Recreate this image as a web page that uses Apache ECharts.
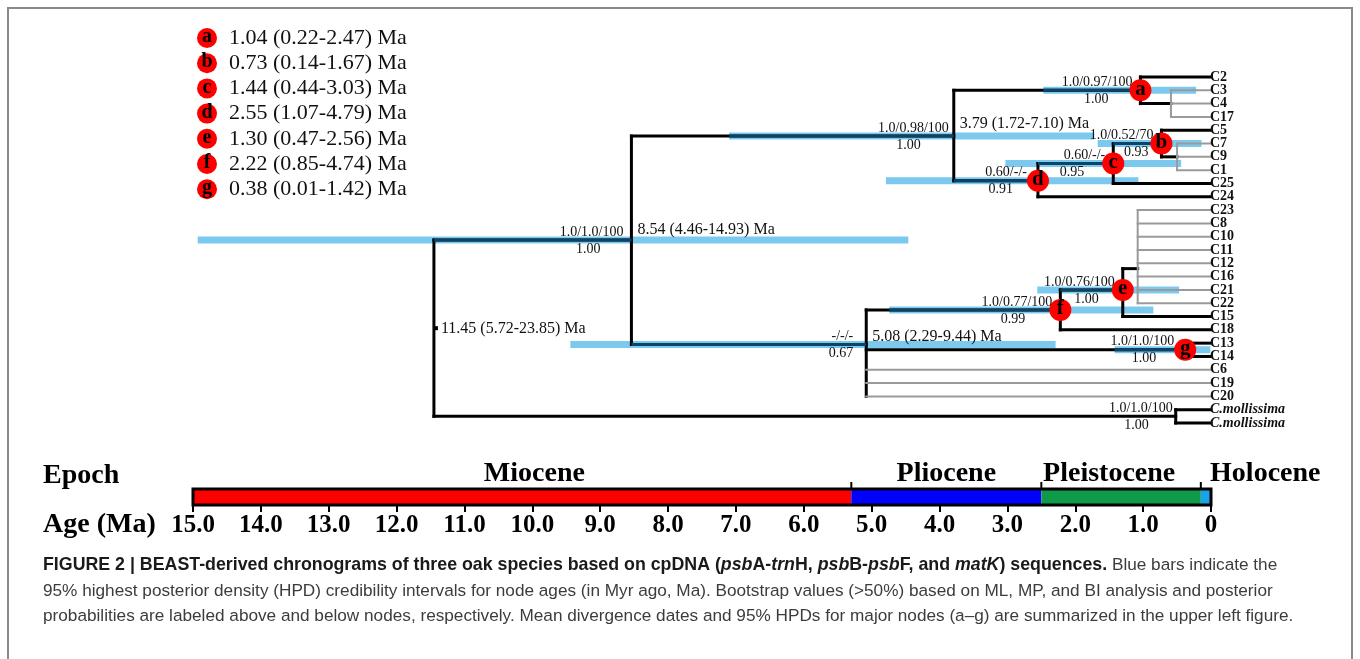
<!DOCTYPE html>
<html><head><meta charset="utf-8">
<script src="https://cdn.jsdelivr.net/npm/echarts@6/dist/echarts.min.js"></script>
<style>html,body{margin:0;padding:0;background:#fff}#c{width:1360px;height:659px}</style>
</head><body><div id="c"></div>
<script>
// ================= DATA =================
const tipNames = ['C2','C3','C4','C17','C5','C7','C9','C1','C25','C24','C23','C8','C10','C11','C12','C16','C21','C22','C15','C18','C13','C14','C6','C19','C20','C.mollissima','C.mollissima'];
const tipsInPolytomy = ['C3','C4','C17','C7','C9','C1','C23','C8','C10','C11','C12','C16','C21','C22','C6','C19','C20'];

const nodeIds      = ['R','N0','N1','a','P1','d','c','b','P2','N2','f','e','P3','g','M'];
const nodeAges     = [11.45,8.54,3.79,1.04,0.59,2.55,1.44,0.73,0.50,5.08,2.22,1.30,1.08,0.38,0.52];
const nodeRows     = [null,12.25,4.44,1,2,7.8,6.5,5,6,20.1,17.5,16,14.4,20.5,25.5];
const nodeChildren = [['N0','M'],['N1','N2'],['a','d'],[0,'P1'],[1,2,3],['c',9],['b',8],[4,'P2'],[5,6,7],['f','g',22,23,24],['e',19],['P3',18],[10,11,12,13,14,15,16,17],[20,21],[25,26]];
const nodeHpdLow   = [5.72,4.46,1.72,0.22,null,1.07,0.44,0.14,null,2.29,0.85,0.47,null,0.01,null];
const nodeHpdHigh  = [23.85,14.93,7.10,2.47,null,4.79,3.03,1.67,null,9.44,4.74,2.56,null,1.42,null];
const supportAbove = ['','1.0/1.0/100','1.0/0.98/100','1.0/0.97/100','','0.60/-/-','0.60/-/-','1.0/0.52/70','','-/-/-','1.0/0.77/100','1.0/0.76/100','','1.0/1.0/100','1.0/1.0/100'];
const supportBelow = ['','1.00','1.00','1.00','','0.91','0.95','0.93','','0.67','0.99','1.00','','1.00','1.00'];
const nodeLetters  = ['','','','a','','d','c','b','','','f','e','','g',''];
const collapsedNodes = ['P1','P2','P3'];
const datedNodes = ['R','N0','N1','N2'];

const epochNames = ['Miocene','Pliocene','Pleistocene','Holocene'];
const epochStart = [15,5.3,2.5,0.15];
const epochEnd   = [5.3,2.5,0.15,0];

const captionLine2 = '95% highest posterior density (HPD) credibility intervals for node ages (in Myr ago, Ma). Bootstrap values (>50%) based on ML, MP, and BI analysis and posterior';
const captionLine3 = 'probabilities are labeled above and below nodes, respectively. Mean divergence dates and 95% HPDs for major nodes (a\u2013g) are summarized in the upper left figure.';

// ================= LAYOUT / STYLE =================
const GL = 193, GW = 1018;
const serif = '"Liberation Serif","Times New Roman",serif';
const sans = '"Liberation Sans",Arial,sans-serif';
const COL = {black:'#000', gray:'#9a9a9a', hpd:'#7cc9ef', navy:'#0c4468', red:'#ff0000'};
const epochColors = ['#ff0000','#0000ff','#0f9a4a','#1ba3e8'];
const epochLabelAge = [9.97, 3.9, 1.5, -0.8];
const belowDx = {a:-32,N0:-31,N1:-33,b:-13,c:-29,d:-25,e:-24,f:-35,N2:-13,g:-29,M:-27};
const aboveDx = {N1:-5,M:-3,d:-11,g:-11,N2:-13};
const ageDy = {N0:-11,N1:-13,N2:-9};

// ================= DERIVED =================
const ix = id => nodeIds.indexOf(id);
const isTip = c => typeof c === 'number';
const rows = nodeRows.slice();
function rowOf(c){ return isTip(c) ? c : rows[ix(c)]; }
const parentOf = {};
nodeChildren.forEach((ch,i)=>ch.forEach(c=>{ if(!isTip(c)) parentOf[c]=i; }));
const span = nodeChildren.map(ch=>{ const r = ch.map(rowOf); return [Math.min(...r), Math.max(...r)]; });
const rootMid = (span[0][0]+span[0][1])/2;

const branchData=[], branchKind=[];
nodeIds.forEach((id,i)=>{
  branchData.push([nodeAges[i], span[i][0], nodeAges[i], span[i][1]]);
  branchKind.push(collapsedNodes.includes(id)?'gray':'black');
  nodeChildren[i].forEach(c=>{
    const cr=rowOf(c), ca=isTip(c)?0:nodeAges[ix(c)];
    branchData.push([nodeAges[i], cr, ca, cr]);
    branchKind.push(isTip(c)&&tipsInPolytomy.includes(tipNames[c])?'gray':'black');
  });
});
const hpdData=[], navyData=[];
nodeIds.forEach((id,i)=>{
  if(nodeHpdLow[i]==null || parentOf[id]===undefined) return;
  hpdData.push([nodeHpdLow[i], nodeHpdHigh[i], rows[i]]);
  const h = Math.min(nodeHpdHigh[i], nodeAges[parentOf[id]]);
  if(h>nodeAges[i]) navyData.push([h, rows[i], nodeAges[i], rows[i]]);
});
const f2 = v=>v.toFixed(2);
const labelData=[], labelMeta=[];
tipNames.forEach((n,i)=>{ labelData.push([0,i]); labelMeta.push({text:n,dx:-1,dy:0,align:'left',font:(n.startsWith('C.')?'italic ':'')+'bold 14px '+serif}); });
nodeIds.forEach((id,i)=>{
  if(supportAbove[i]){ labelData.push([nodeAges[i],rows[i]]); labelMeta.push({text:supportAbove[i],dx:aboveDx[id]??-8,dy:-8,align:'right',font:'14px '+serif}); }
  if(supportBelow[i]){ labelData.push([nodeAges[i],rows[i]]); labelMeta.push({text:supportBelow[i],dx:belowDx[id]??-28,dy:9,align:'right',font:'14px '+serif}); }
  if(datedNodes.includes(id)){
    const r = id==='R'?rootMid:rows[i];
    labelData.push([nodeAges[i],r]);
    labelMeta.push({text:`${f2(nodeAges[i])} (${f2(nodeHpdLow[i])}-${f2(nodeHpdHigh[i])}) Ma`,dx:id==='R'?7:6,dy:(ageDy[id]??0)+1,align:'left',font:'16px '+serif,mark:id==='R'});
  }
});
const letterData = nodeIds.map((id,i)=>nodeLetters[i]?[nodeAges[i],rows[i],nodeLetters[i]]:null).filter(Boolean);

// legend & static texts
const legendOrder = nodeLetters.map((l,i)=>({l,i})).filter(o=>o.l).sort((a,b)=>a.l.localeCompare(b.l));
const graphics = [];
legendOrder.forEach((o,k)=>{
  const cy = 38 + k*25.2;
  graphics.push({type:'circle',shape:{cx:207,cy:cy,r:10},style:{fill:COL.red}});
  graphics.push({type:'text',x:207,y:cy-1,style:{text:o.l,font:'bold 20px '+serif,fill:'#000',align:'center',verticalAlign:'middle'}});
  graphics.push({type:'text',x:229,y:cy,style:{text:`${f2(nodeAges[o.i])} (${f2(nodeHpdLow[o.i])}-${f2(nodeHpdHigh[o.i])}) Ma`,font:'22px '+serif,fill:'#111',align:'left',verticalAlign:'middle'}});
});
graphics.push({type:'text',x:43,y:476,style:{text:'Epoch',font:'bold 28px '+serif,fill:'#000',verticalAlign:'middle'}});
graphics.push({type:'text',x:43,y:525,style:{text:'Age (Ma)',font:'bold 28px '+serif,fill:'#000',verticalAlign:'middle'}});
graphics.push({type:'rect',shape:{x:8,y:8,width:1344,height:700},style:{fill:null,stroke:'#8a8a8a',lineWidth:2}});
graphics.push({type:'text',x:43,y:565,style:{
  text:'{b|FIGURE 2 | BEAST-derived chronograms of three oak species based on cpDNA (}{bi|psb}{b|A-}{bi|trn}{b|H, }{bi|psb}{b|B-}{bi|psb}{b|F, and }{bi|matK}{b|) sequences.}{r| Blue bars indicate the}',
  verticalAlign:'middle',
  rich:{
    b:{font:'bold 17.8px '+sans,fill:'#1a1a1a'},
    bi:{font:'italic bold 17.8px '+sans,fill:'#1a1a1a'},
    r:{font:'17.2px '+sans,fill:'#3c3c3c'}
  }}});
graphics.push({type:'text',x:43,y:591,style:{text:captionLine2,font:'17.2px '+sans,fill:'#3c3c3c',verticalAlign:'middle'}});
graphics.push({type:'text',x:43,y:616,style:{text:captionLine3,font:'17.2px '+sans,fill:'#3c3c3c',verticalAlign:'middle'}});

// ================= CHART =================
const chart = echarts.init(document.getElementById('c'));
const lineItem = (api, style)=>{
  const a=api.coord([api.value(0),api.value(1)]), b=api.coord([api.value(2),api.value(3)]);
  return {type:'line',shape:{x1:a[0],y1:a[1],x2:b[0],y2:b[1]},style};
};
chart.setOption({
  animation:false,
  grid:[{left:GL,width:GW,top:77,height:346},{left:GL,width:GW,top:489,height:16}],
  xAxis:[
    {gridIndex:0,type:'value',min:0,max:15,inverse:true,show:false},
    {gridIndex:1,type:'value',min:0,max:15,interval:1,inverse:true,
     axisLine:{show:false},splitLine:{show:false},
     axisTick:{show:true,length:7,lineStyle:{color:'#000',width:2}},
     axisLabel:{margin:8,color:'#000',fontWeight:'bold',fontSize:25,fontFamily:serif,formatter:v=>v===0?'0':v.toFixed(1)}}
  ],
  yAxis:[
    {gridIndex:0,type:'value',min:0,max:26,inverse:true,show:false},
    {gridIndex:1,type:'value',min:0,max:1,show:false}
  ],
  graphic:graphics,
  series:[
    {type:'custom',name:'hpd',xAxisIndex:0,yAxisIndex:0,z:1,clip:false,data:hpdData,encode:{x:[0,1],y:2},
     renderItem:(p,api)=>{const a=api.coord([api.value(1),api.value(2)]),b=api.coord([api.value(0),api.value(2)]);
       return {type:'line',shape:{x1:a[0],y1:a[1],x2:b[0],y2:b[1]},style:{stroke:COL.hpd,lineWidth:7,lineCap:'butt'}};}},
    {type:'custom',name:'branches',xAxisIndex:0,yAxisIndex:0,z:2,clip:false,data:branchData,encode:{x:[0,2],y:[1,3]},
     renderItem:(p,api)=>{const k=branchKind[p.dataIndex];
       return lineItem(api,{stroke:k==='gray'?COL.gray:COL.black,lineWidth:k==='gray'?2:3,lineCap:'square'});}},
    {type:'custom',name:'overlap',xAxisIndex:0,yAxisIndex:0,z:3,clip:false,data:navyData,encode:{x:[0,2],y:[1,3]},
     renderItem:(p,api)=>lineItem(api,{stroke:COL.navy,lineWidth:3,lineCap:'butt'})},
    {type:'scatter',name:'nodes',xAxisIndex:0,yAxisIndex:0,z:5,data:letterData,symbolSize:22,
     itemStyle:{color:COL.red,opacity:1},
     label:{show:true,position:'inside',formatter:p=>p.value[2],color:'#000',fontWeight:'bold',fontSize:21,fontFamily:serif,offset:[0,-1]}},
    {type:'custom',name:'labels',xAxisIndex:0,yAxisIndex:0,z:6,clip:false,data:labelData,encode:{x:0,y:1},
     renderItem:(p,api)=>{const m=labelMeta[p.dataIndex];const c=api.coord([api.value(0),api.value(1)]);
       const t={type:'text',x:c[0]+m.dx,y:c[1]+m.dy,style:{text:m.text,font:m.font,fill:'#111',align:m.align,verticalAlign:'middle'}};
       if(!m.mark) return t;
       return {type:'group',children:[t,{type:'rect',shape:{x:c[0]+1,y:c[1]-2,width:3,height:4},style:{fill:'#000'}}]};}},
    {type:'custom',name:'epochs',xAxisIndex:1,yAxisIndex:1,z:1,clip:false,data:epochNames.map((n,i)=>[epochStart[i],epochEnd[i]]),encode:{x:[0,1]},
     renderItem:(p,api)=>{const i=p.dataIndex;
       const a=api.coord([api.value(0),1]), b=api.coord([api.value(1),0]);
       const ch=[{type:'rect',shape:{x:a[0],y:a[1],width:b[0]-a[0],height:b[1]-a[1]},style:{fill:epochColors[i]}}];
       const lp=api.coord([epochLabelAge[i],1]);
       ch.push({type:'text',x:lp[0],y:lp[1]-15,style:{text:epochNames[i],font:'bold 28px '+serif,fill:'#000',align:'center',verticalAlign:'middle'}});
       if(i>0) ch.push({type:'line',shape:{x1:a[0],y1:a[1],x2:a[0],y2:a[1]-7},style:{stroke:'#000',lineWidth:2}});
       return {type:'group',children:ch};}},
    {type:'custom',name:'epochFrame',xAxisIndex:1,yAxisIndex:1,z:2,clip:false,data:[[epochStart[0],epochEnd[epochEnd.length-1]]],encode:{x:[0,1]},
     renderItem:(p,api)=>{const a=api.coord([api.value(0),1]), b=api.coord([api.value(1),0]);
       return {type:'rect',shape:{x:a[0],y:a[1],width:b[0]-a[0],height:b[1]-a[1]},style:{fill:null,stroke:'#000',lineWidth:3}};}}
  ]
});
</script></body></html>
